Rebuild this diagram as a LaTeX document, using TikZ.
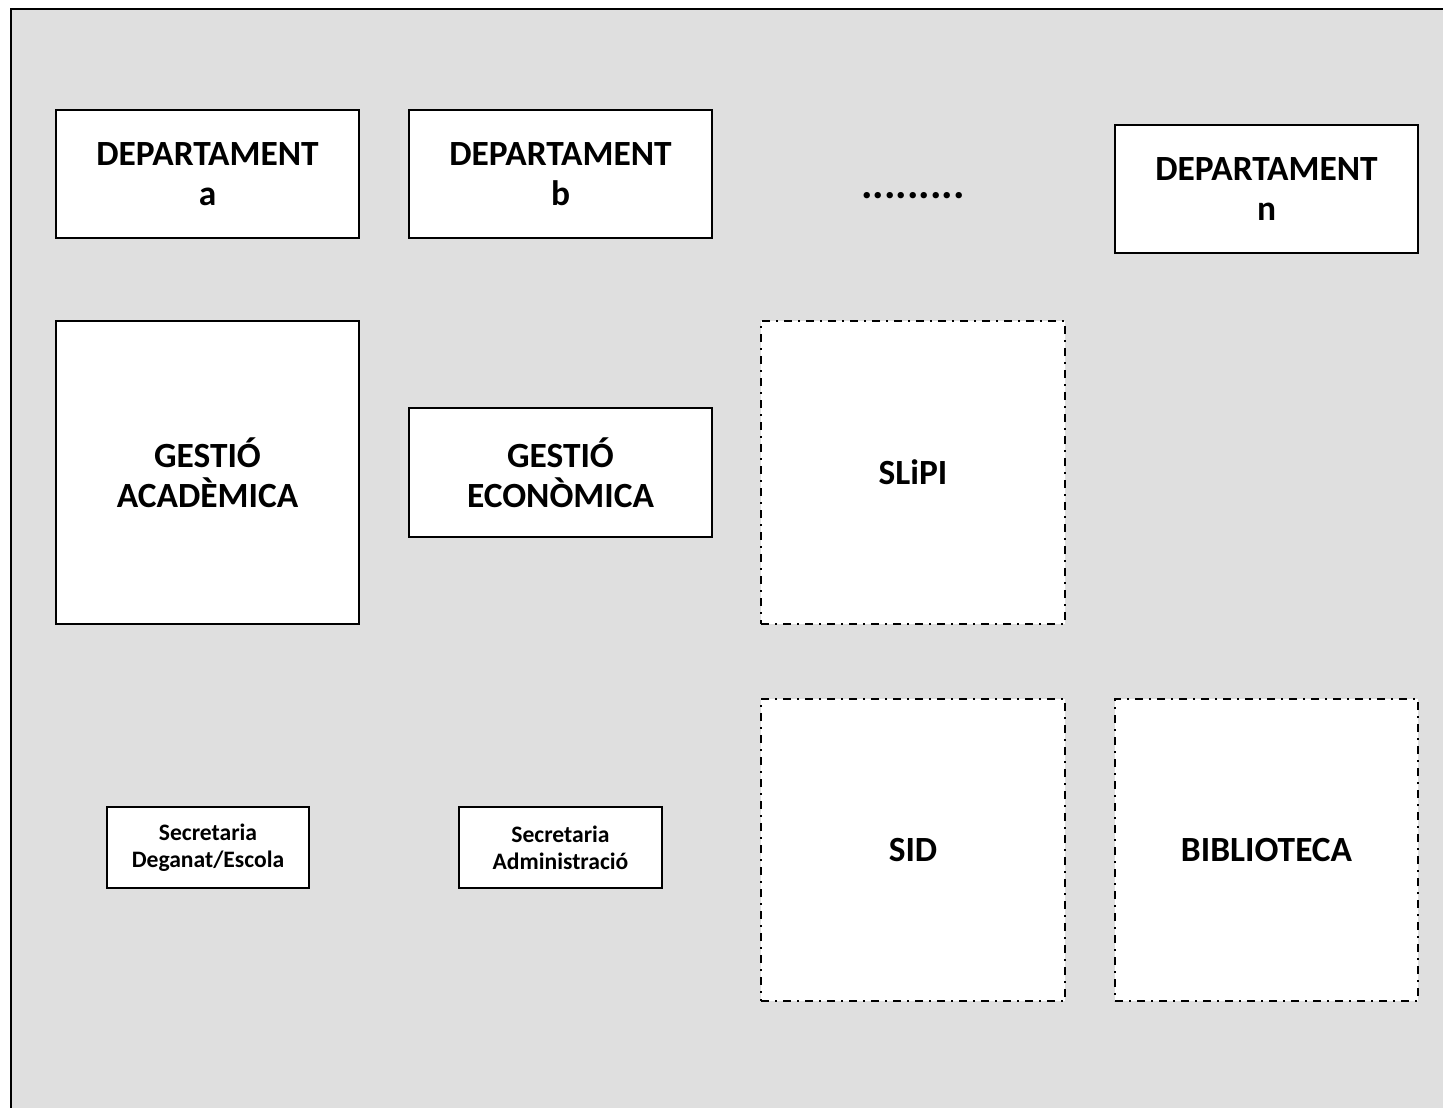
\documentclass[tikz,border=0pt]{standalone}
\usepackage{fontspec}
\setmainfont{Carlito}
\begin{document}
\begin{tikzpicture}[x=0.5pt, y=-0.5pt,
  box/.style={draw, line width=1pt, fill=white, inner sep=0pt, align=center,
    font=\fontsize{17.7}{20}\selectfont\bfseries},
  smallbox/.style={box, font=\fontsize{11.8}{13.7}\selectfont\bfseries},
  dashbox/.style={box, line width=0.75pt, dash pattern=on 4pt off 3pt on 1pt off 3pt}]
\useasboundingbox (0,0) rectangle (1443,1107);
\fill[gray!25] (11,9) rectangle (1460,1120);
\draw[line width=1.2pt] (11,1120) -- (11,9) -- (1460,9);
\node[box, minimum width=151.5pt, minimum height=64pt] (depa) at (207.5,174) {DEPARTAMENT\\a};
\node[box, minimum width=151.5pt, minimum height=64pt] (depb) at (560.5,174) {DEPARTAMENT\\b};
\node[font=\fontsize{21.5}{24}\selectfont\bfseries] (dots) at (913,196) {.........};
\node[box, minimum width=151.5pt, minimum height=64pt] (depn) at (1266.5,189) {DEPARTAMENT\\n};
\node[box, minimum width=151.5pt, minimum height=151.5pt] (gacad) at (207.5,472.5) {GESTIÓ\\ACADÈMICA};
\node[box, minimum width=151.5pt, minimum height=64.5pt] (gecon) at (560.5,472.5) {GESTIÓ\\ECONÒMICA};
\node[dashbox, minimum width=152pt, minimum height=151.5pt] (slipi) at (913,472.5) {SLiPI};
\node[smallbox, minimum width=101pt, minimum height=40.5pt] (secdeg) at (208,847.5) {Secretaria\\Deganat/Escola};
\node[smallbox, minimum width=101.5pt, minimum height=40.5pt] (secadm) at (560.5,847.5) {Secretaria\\Administració};
\node[dashbox, minimum width=152pt, minimum height=151pt] (sid) at (913,850) {SID};
\node[dashbox, minimum width=151.5pt, minimum height=151pt] (bib) at (1266.5,850) {BIBLIOTECA};
\end{tikzpicture}
\end{document}
